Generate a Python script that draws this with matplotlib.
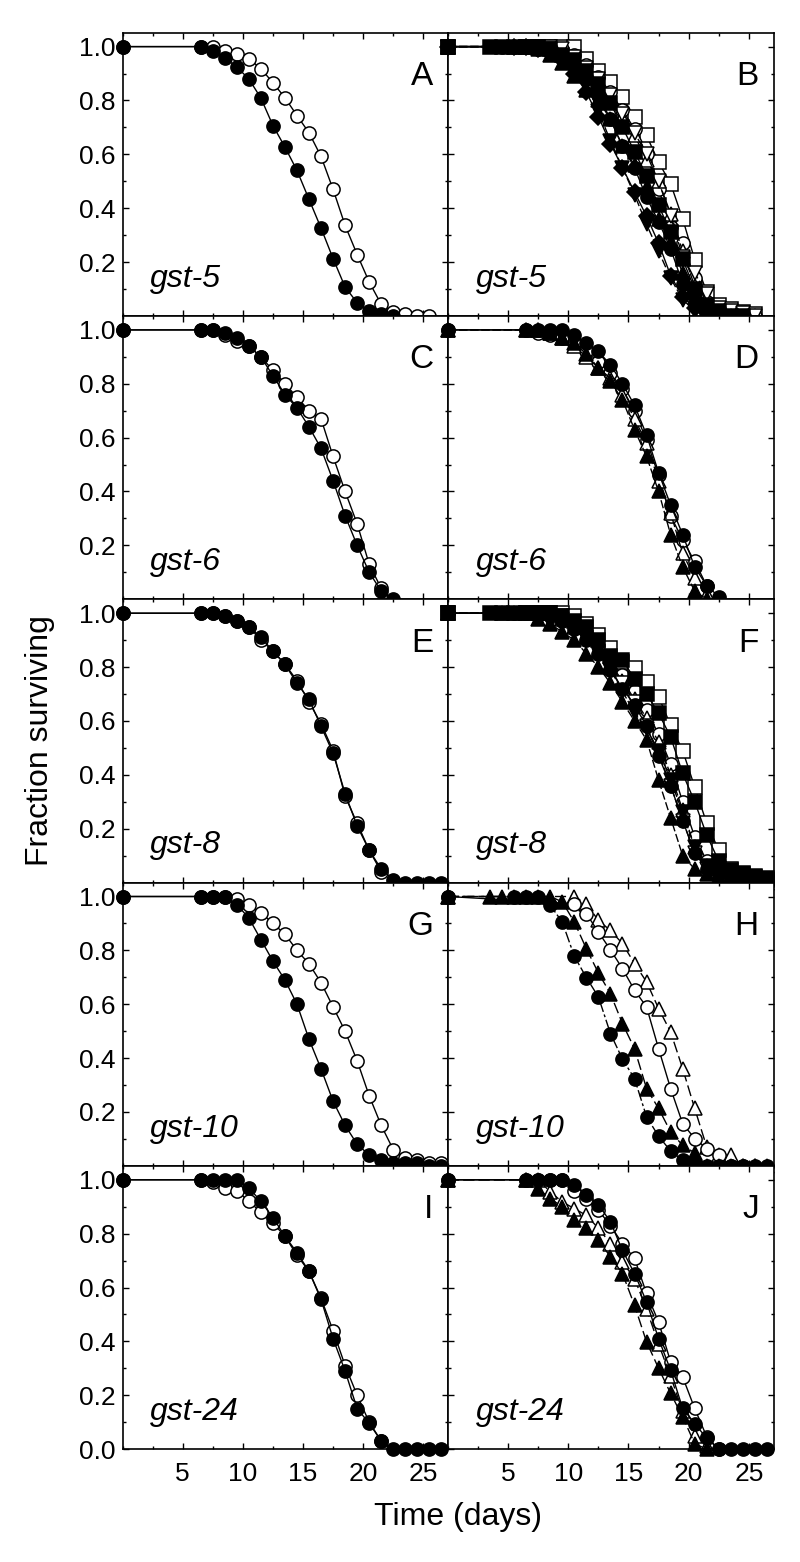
import numpy as np
import matplotlib
matplotlib.use("Agg")
import matplotlib.pyplot as plt
from matplotlib.ticker import MultipleLocator, FixedLocator

plt.rcParams['font.family'] = ['Liberation Sans', 'DejaVu Sans']

# ---------------- data (day, fraction surviving) ----------------
# every series also starts with the point (day 0, 1.0)
DAYS = [1.5, 2.5, 3.5, 4.5, 5.5, 6.5, 7.5, 8.5, 9.5, 10.5, 11.5, 12.5, 13.5,
        14.5, 15.5, 16.5, 17.5, 18.5, 19.5, 20.5, 21.5, 22.5, 23.5, 24.5,
        25.5, 26.5]

# Panel A  (gst-5)
A_fc = [1.0, 0.983, 0.958, 0.924, 0.880, 0.809, 0.707, 0.627, 0.540, 0.433,
        0.326, 0.213, 0.107, 0.049, 0.018, 0.008, 0.0]
A_oc = [1.0, 1.0, 0.985, 0.973, 0.955, 0.918, 0.866, 0.810, 0.744, 0.680,
        0.592, 0.470, 0.336, 0.228, 0.126, 0.043, 0.015, 0.008, 0.0, 0.0]

# Panel B  (gst-5)
B_fs = [1, 1, 1, 1, 1, 0.99, 0.97, 0.95, 0.91, 0.86, 0.79, 0.70, 0.61, 0.52,
        0.41, 0.31, 0.21, 0.10, 0.04, 0.02, 0.0, 0.0]
B_fc = [1, 1, 1, 0.99, 0.98, 0.96, 0.93, 0.88, 0.82, 0.73, 0.63, 0.55, 0.44,
        0.35, 0.25, 0.12, 0.05, 0.02, 0.0, 0.0]
B_ft = [1, 1, 0.99, 0.97, 0.94, 0.89, 0.84, 0.80, 0.73, 0.63, 0.56, 0.48,
        0.36, 0.27, 0.16, 0.07, 0.03, 0.01, 0.0]
B_fv = [1, 1, 0.99, 0.96, 0.92, 0.86, 0.76, 0.65, 0.55, 0.45, 0.34, 0.24,
        0.14, 0.06, 0.02, 0.0, 0.0]
B_fd = [1, 1, 0.99, 0.98, 0.95, 0.90, 0.83, 0.74, 0.64, 0.55, 0.46, 0.37,
        0.27, 0.15, 0.07, 0.03, 0.01, 0.0]
B_os = [1, 1, 1, 1, 1, 0.955, 0.911, 0.868, 0.813, 0.738, 0.670, 0.571, 0.491,
        0.361, 0.209, 0.089, 0.039, 0.027, 0.015, 0.008]
B_oc = [1, 1, 0.99, 0.97, 0.93, 0.886, 0.831, 0.763, 0.695, 0.60, 0.472, 0.33,
        0.27, 0.14, 0.05, 0.02, 0.01, 0.0, 0.0]
B_ot = [1, 1, 0.98, 0.95, 0.91, 0.86, 0.80, 0.74, 0.67, 0.58, 0.50, 0.38,
        0.24, 0.11, 0.04, 0.02, 0.01, 0.0, 0.0]
B_ov = [1, 1, 0.99, 0.96, 0.92, 0.88, 0.82, 0.75, 0.68, 0.60, 0.50, 0.37,
        0.22, 0.16, 0.08, 0.03, 0.02, 0.01, 0.0]

# Panel C  (gst-6)
C_fc = [1, 1, 0.99, 0.97, 0.94, 0.90, 0.83, 0.76, 0.71, 0.64, 0.56, 0.44,
        0.31, 0.20, 0.10, 0.03, 0.0]
C_oc = [1, 1, 0.98, 0.96, 0.94, 0.90, 0.85, 0.80, 0.75, 0.70, 0.67, 0.53,
        0.40, 0.28, 0.13, 0.04]

# Panel D  (gst-6)
D_fc = [1, 1, 1, 1, 0.98, 0.95, 0.92, 0.87, 0.80, 0.72, 0.61, 0.47, 0.35,
        0.24, 0.12, 0.05, 0.01]
D_oc = [1, 0.99, 0.98, 0.97, 0.95, 0.92, 0.88, 0.84, 0.78, 0.70, 0.59, 0.46,
        0.31, 0.22, 0.14, 0.05]
D_ft = [1, 1, 0.99, 0.97, 0.95, 0.91, 0.86, 0.81, 0.74, 0.63, 0.53, 0.40,
        0.24, 0.12, 0.03, 0.0]
D_ot = [1, 1, 0.99, 0.97, 0.94, 0.90, 0.86, 0.82, 0.76, 0.67, 0.58, 0.44,
        0.32, 0.17, 0.08, 0.02]

# Panel E  (gst-8)
E_fc = [1, 1, 0.99, 0.97, 0.95, 0.91, 0.86, 0.81, 0.74, 0.68, 0.58, 0.48,
        0.33, 0.21, 0.12, 0.05, 0.01, 0, 0, 0, 0]
E_oc = [1, 1, 0.99, 0.97, 0.95, 0.90, 0.86, 0.81, 0.75, 0.67, 0.59, 0.49,
        0.32, 0.22, 0.12, 0.04]

# Panel F  (gst-8)
F_fs = [1, 1, 1, 1, 1, 1, 0.99, 0.97, 0.95, 0.90, 0.84, 0.826, 0.757, 0.70,
        0.628, 0.541, 0.405, 0.30, 0.176, 0.08, 0.045, 0.035, 0.025, 0.015]
F_os = [1, 1, 1, 1, 0.99, 0.96, 0.92, 0.87, 0.82, 0.795, 0.745, 0.69, 0.584,
        0.49, 0.355, 0.22, 0.12, 0.05, 0.03, 0.02, 0.01]
F_fc = [1, 1, 1, 0.99, 0.97, 0.94, 0.90, 0.85, 0.79, 0.72, 0.66, 0.58, 0.47,
        0.36, 0.23, 0.11, 0.05, 0.03, 0.02, 0.01, 0.01, 0.0]
F_oc = [1, 1, 1, 0.99, 0.97, 0.93, 0.88, 0.82, 0.77, 0.71, 0.64, 0.55, 0.44,
        0.30, 0.17, 0.08, 0.04, 0.03, 0.02, 0.01, 0.0]
F_ft = [1, 1, 1, 0.98, 0.96, 0.93, 0.90, 0.85, 0.80, 0.74, 0.67, 0.60, 0.53,
        0.38, 0.24, 0.10, 0.05, 0.03, 0.02, 0.01, 0.01, 0.0, 0.0]
F_fv = [1, 1, 1, 0.98, 0.95, 0.91, 0.86, 0.79, 0.71, 0.63, 0.57, 0.49, 0.38,
        0.26, 0.13, 0.06, 0.03, 0.02, 0.01, 0.0, 0.0]
F_ot = [1, 1, 0.98, 0.95, 0.91, 0.86, 0.81, 0.75, 0.68, 0.61, 0.52, 0.40,
        0.27, 0.13, 0.06, 0.03, 0.02, 0.01, 0.0, 0.0]
F_ov = [1, 1, 0.99, 0.96, 0.92, 0.87, 0.81, 0.74, 0.67, 0.58, 0.48, 0.36,
        0.23, 0.11, 0.05, 0.03, 0.02, 0.01, 0.0, 0.0]

# Panel G  (gst-10)
G_fc = [1, 1, 1, 0.97, 0.92, 0.84, 0.76, 0.69, 0.60, 0.47, 0.36, 0.24, 0.15,
        0.08, 0.04, 0.02, 0.01, 0.01, 0.01, 0.0, 0.0]
G_oc = [1, 1, 1, 0.99, 0.97, 0.94, 0.90, 0.86, 0.80, 0.75, 0.68, 0.59, 0.50,
        0.39, 0.26, 0.15, 0.06, 0.03, 0.02, 0.01, 0.01]

# Panel H  (gst-10)
H_fc = [1, 1, 1, 0.967, 0.905, 0.778, 0.699, 0.627, 0.491, 0.396, 0.324,
        0.182, 0.110, 0.055, 0.021, 0.008, 0, 0, 0, 0, 0, 0]
H_ft = [1, 1, 1, 1, 1, 1, 0.98, 0.905, 0.806, 0.716, 0.639, 0.528, 0.435,
        0.287, 0.213, 0.126, 0.076, 0.048, 0, 0, 0, 0, 0, 0]
H_oc = [0.973, 0.936, 0.868, 0.802, 0.732, 0.652, 0.59, 0.435, 0.287, 0.157,
        0.101, 0.064, 0.04, 0.0, 0.0]
H_ot = [1.0, 0.973, 0.911, 0.874, 0.825, 0.751, 0.683, 0.584, 0.497, 0.361,
        0.213, 0.07, 0.04, 0.04, 0.0, 0.0]

# Panel I  (gst-24)
I_fc = [1, 1, 1, 1, 0.97, 0.92, 0.86, 0.79, 0.73, 0.66, 0.556, 0.41, 0.29,
        0.15, 0.096, 0.03, 0, 0, 0, 0, 0]
I_oc = [1, 0.99, 0.97, 0.96, 0.92, 0.88, 0.84, 0.79, 0.72, 0.66, 0.56, 0.44,
        0.31, 0.20, 0.10, 0.03]

# Panel J  (gst-24)
J_fc = [1, 1, 1, 1, 0.98, 0.943, 0.908, 0.844, 0.738, 0.652, 0.547, 0.41,
        0.293, 0.151, 0.095, 0.04, 0, 0, 0, 0, 0]
J_oc = [1, 1, 1, 1, 0.96, 0.93, 0.887, 0.83, 0.763, 0.708, 0.578, 0.472,
        0.324, 0.268, 0.151, 0.046, 0.0]
J_ft = [1, 0.967, 0.93, 0.90, 0.85, 0.82, 0.776, 0.714, 0.652, 0.534, 0.398,
        0.30, 0.207, 0.12, 0.02, 0.0]
J_ot = [1, 1, 0.955, 0.918, 0.893, 0.868, 0.82, 0.763, 0.695, 0.633, 0.52,
        0.39, 0.27, 0.14, 0.05, 0.01]

GENES = ["gst-5", "gst-5", "gst-6", "gst-6", "gst-8", "gst-8",
         "gst-10", "gst-10", "gst-24", "gst-24"]
LETTERS = ["A", "B", "C", "D", "E", "F", "G", "H", "I", "J"]

# (values, first day after day 0, marker, filled, linestyle)
PANELS = {
    "A": [(A_oc, 6.5, 'o', False, '-'), (A_fc, 6.5, 'o', True, '-')],
    "B": [(B_os, 6.5, 's', False, '-'), (B_oc, 7.5, 'o', False, '-'),
          (B_ot, 7.5, '^', False, (0, (6, 2))), (B_ov, 7.5, 'v', False, (0, (6, 2))),
          (B_fd, 5.5, 'D', True, '-'), (B_ft, 5.5, '^', True, (0, (6, 2))),
          (B_fv, 6.5, 'v', True, (0, (6, 2))), (B_fc, 4.5, 'o', True, '-'),
          (B_fs, 3.5, 's', True, '-')],
    "C": [(C_oc, 6.5, 'o', False, '-'), (C_fc, 6.5, 'o', True, '-')],
    "D": [(D_oc, 6.5, 'o', False, '-'), (D_ot, 6.5, '^', False, (0, (6, 2))),
          (D_ft, 6.5, '^', True, (0, (6, 2))), (D_fc, 6.5, 'o', True, '-')],
    "E": [(E_oc, 6.5, 'o', False, '-'), (E_fc, 6.5, 'o', True, '-')],
    "F": [(F_os, 6.5, 's', False, '-'), (F_oc, 6.5, 'o', False, '-'),
          (F_ot, 7.5, '^', False, (0, (6, 2))), (F_ov, 7.5, 'v', False, (0, (6, 2))),
          (F_fc, 5.5, 'o', True, '-'), (F_ft, 4.5, '^', True, (0, (6, 2))),
          (F_fv, 6.5, 'v', True, (0, (6, 2))), (F_fs, 3.5, 's', True, '-')],
    "G": [(G_oc, 6.5, 'o', False, '-'), (G_fc, 6.5, 'o', True, '-')],
    "H": [(H_ot, 10.5, '^', False, (0, (8, 3))), (H_oc, 10.5, 'o', False, '-'),
          (H_ft, 3.5, '^', True, (0, (8, 3))), (H_fc, 5.5, 'o', True, (0, (8, 2, 2, 2)))],
    "I": [(I_oc, 6.5, 'o', False, '-'), (I_fc, 6.5, 'o', True, '-')],
    "J": [(J_oc, 6.5, 'o', False, '-'), (J_ot, 6.5, '^', False, (0, (8, 3))),
          (J_ft, 6.5, '^', True, (0, (8, 3))), (J_fc, 6.5, 'o', True, '-')],
}

# ---------------- figure ----------------
W, H = 800, 1562
fig = plt.figure(figsize=(W / 100, H / 100), dpi=100)

col_x = [122.5, 448.0]
col_w = 325.5
row_top = [32.6, 315.9, 599.2, 882.5, 1165.8]
row_h = 283.3

for k, letter in enumerate(LETTERS):
    r, c = divmod(k, 2)
    left = col_x[c] / W
    bottom = 1 - (row_top[r] + row_h) / H
    ax = fig.add_axes([left, bottom, col_w / W, row_h / H])
    for vals, start, mk, filled, ls in PANELS[letter]:
        i0 = DAYS.index(start)
        xs = [0.0] + DAYS[i0:i0 + len(vals)]
        ys = [1.0] + list(vals)
        ax.plot(xs, ys, linestyle=ls, color='black', lw=1.0,
                marker=mk, markersize=9.5 if mk != 'D' else 8.0,
                markerfacecolor='black' if filled else 'white',
                markeredgecolor='black', markeredgewidth=1.1,
                clip_on=False, zorder=3 if filled else 2)
    ax.set_xlim(0, 27.05)
    ax.set_ylim(0, 1.052)
    ax.xaxis.set_major_locator(FixedLocator([5, 10, 15, 20, 25]))
    ax.xaxis.set_minor_locator(MultipleLocator(2.5))
    ax.yaxis.set_major_locator(FixedLocator([0.0, 0.2, 0.4, 0.6, 0.8, 1.0]))
    ax.yaxis.set_minor_locator(MultipleLocator(0.1))
    ax.tick_params(which='both', direction='in', top=True, right=True,
                   width=1.0, labelsize=19, pad=5)
    ax.tick_params(which='major', length=4)
    ax.tick_params(which='minor', length=2.5)
    for sp in ax.spines.values():
        sp.set_linewidth(1.2)
    if c == 0:
        if r == 4:
            ax.set_yticklabels(["0.0", "0.2", "0.4", "0.6", "0.8", "1.0"])
        else:
            ax.set_yticklabels(["", "0.2", "0.4", "0.6", "0.8", "1.0"])
    else:
        ax.set_yticklabels([])
    if r == 4:
        ax.set_xticklabels(["5", "10", "15", "20", "25"])
        ax.tick_params(axis='x', pad=9)
    else:
        ax.set_xticklabels([])
    ax.text(0.955, 0.845, letter, transform=ax.transAxes, ha='right',
            va='center', fontsize=24)
    ax.text(0.085, 0.103, GENES[k], transform=ax.transAxes, ha='left',
            va='baseline', fontsize=23, style='italic')

fig.text(0.05, 0.526, "Fraction surviving", rotation=90, ha='center',
         va='center', fontsize=23)
fig.text(0.573, 0.029, "Time (days)", ha='center', va='center', fontsize=23)

fig.savefig("out.png", dpi=100)
